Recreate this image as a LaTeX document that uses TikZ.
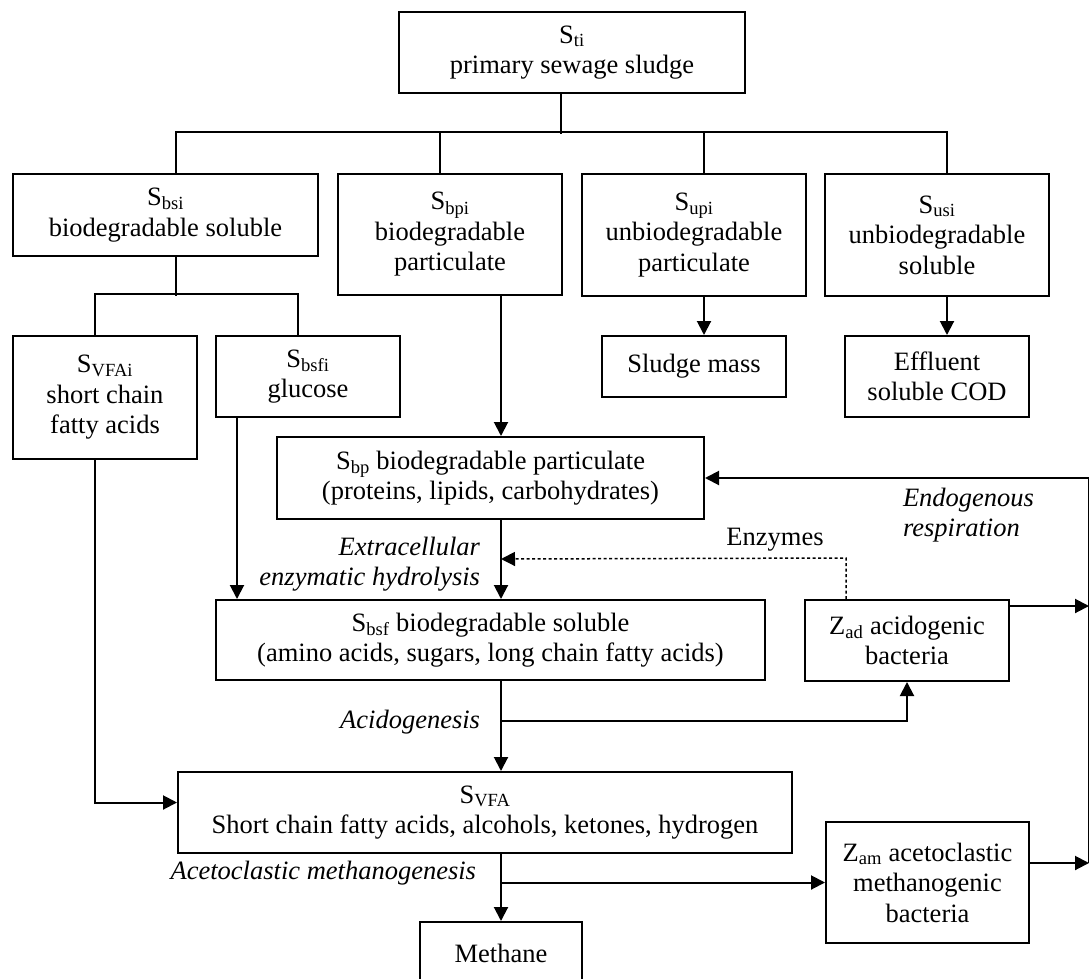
\documentclass[tikz,border=0pt]{standalone}
\usepackage{fontspec}
\setmainfont{Liberation Serif}
\usetikzlibrary{arrows.meta}
\begin{document}
\begin{tikzpicture}
        [x=1pt, y=-1pt, line width=2pt, >={Triangle[length=14pt,width=14pt]},
        box/.style={draw, line width=2pt, align=center, inner sep=0pt, font=\fontsize{26.5}{30.5}\selectfont},
        proc/.style={inner sep=0pt, font=\fontsize{26.5}{30.5}\selectfont\itshape}]
        \useasboundingbox (0,0) rectangle (1089,979);
        \node[box, minimum width=346pt, minimum height=81pt] (Sti) at (572,52.5) {S\textsubscript{ti}\\primary sewage sludge};
        \node[box, minimum width=305pt, minimum height=82pt] (Sbsi) at (165.5,215) {S\textsubscript{bsi}\\biodegradable soluble};
        \node[box, minimum width=224pt, minimum height=121pt] (Sbpi) at (450,234.5) {S\textsubscript{bpi}\\biodegradable\\particulate};
        \node[box, minimum width=224pt, minimum height=122pt] (Supi) at (694,235) {S\textsubscript{upi}\\unbiodegradable\\particulate};
        \node[box, minimum width=224pt, minimum height=122pt] (Susi) at (937,235) {S\textsubscript{usi}\\unbiodegradable\\soluble};
        \node[box, minimum width=184pt, minimum height=123pt] (SVFAi) at (105,397.5) {S\textsubscript{VFAi}\\short chain\\fatty acids};
        \node[box, minimum width=184pt, minimum height=81pt] (Sbsfi) at (308,376.5) {S\textsubscript{bsfi}\\glucose};
        \node[box, minimum width=184pt, minimum height=61pt] (Sludge) at (694,366.5) {Sludge mass};
        \node[box, minimum width=184pt, minimum height=81pt] (Effl) at (937,376.5) {Effluent\\soluble COD};
        \node[box, minimum width=427pt, minimum height=82pt] (Sbp) at (490.5,478) {S\textsubscript{bp} biodegradable particulate\\(proteins, lipids, carbohydrates)};
        \node[box, minimum width=549pt, minimum height=80pt] (Sbsf) at (490.5,640) {S\textsubscript{bsf} biodegradable soluble\\(amino acids, sugars, long chain fatty acids)};
        \node[box, minimum width=204pt, minimum height=81pt] (Zad) at (907,640.5) {Z\textsubscript{ad} acidogenic\\bacteria};
        \node[box, minimum width=614pt, minimum height=81pt] (SVFA) at (485,812.5) {S\textsubscript{VFA}\\Short chain fatty acids, alcohols, ketones, hydrogen};
        \node[box, minimum width=203pt, minimum height=121pt] (Zam) at (927.5,882.5) {Z\textsubscript{am} acetoclastic\\methanogenic\\bacteria};
        \node[box, minimum width=162pt, minimum height=62pt] (Meth) at (501,953) {Methane};

        \node[proc, anchor=east, align=right] (hydro) at (481,564) {Extracellular\\enzymatic hydrolysis};
        \node[proc, anchor=east] (acido) at (481,722) {Acidogenesis};
        \node[proc, anchor=east] (aceto) at (477,873) {Acetoclastic methanogenesis};
        \node[proc, anchor=west, align=left] (endo) at (902,515) {Endogenous\\respiration};
        \node[proc, font=\fontsize{26.5}{30.5}\selectfont] (enz) at (775,540) {Enzymes};

        % splitting of the primary sludge
        \draw ([xshift=-11pt]Sti.south) -- ++(0,40);
        \draw ([xshift=10.5pt]Sbsi.north) -- ++(0,-41) -| ([xshift=10pt]Susi.north);
        \draw ([xshift=-10pt]Sbpi.north) -- ++(0,-41);
        \draw ([xshift=10pt]Supi.north) -- ++(0,-41);
        \draw ([xshift=10.5pt]Sbsi.south) -- ++(0,39);
        \draw ([xshift=-10pt]SVFAi.north) -- ++(0,-41) -| ([xshift=-10pt]Sbsfi.north);
        \draw[->] ([xshift=10pt]Supi.south) -- ([xshift=10pt]Sludge.north);
        \draw[->] ([xshift=10pt]Susi.south) -- ([xshift=10pt]Effl.north);

        % main chain
        \draw[->] (Sbpi.south -| Meth) -- (Sbp.north -| Meth);
        \draw[->] (Sbp.south -| Meth) -- (Sbsf.north -| Meth);
        \draw[->] ([xshift=-71pt]Sbsfi.south) coordinate (g) -- (g |- Sbsf.north);
        \draw[->] (Sbsf.south -| Meth) -- (SVFA.north -| Meth);
        \draw[->] (Meth |- 0,721) -| (Zad.south);
        \draw[->] ([xshift=-10pt]SVFAi.south) |- ([yshift=10pt]SVFA.west);
        \draw[->] (SVFA.south -| Meth) -- (Meth.north);
        \draw[->] (Meth |- Zam.west) -- (Zam.west);
        \draw[->, line width=1.5pt, dash pattern=on 3pt off 2.5pt] ([xshift=-61pt]Zad.north) -- ++(0,-41) -- (Meth |- 0,559);

        % endogenous respiration
        \draw[->] ([yshift=34.5pt]Zad.east) -- ++(79,0) coordinate (r1);
        \draw[->] ([yshift=19.5pt]Zam.east) -- ++(59,0) coordinate (r2);
        \draw[->] (r2) |- (Sbp.east);
    \end{tikzpicture}
\end{document}
